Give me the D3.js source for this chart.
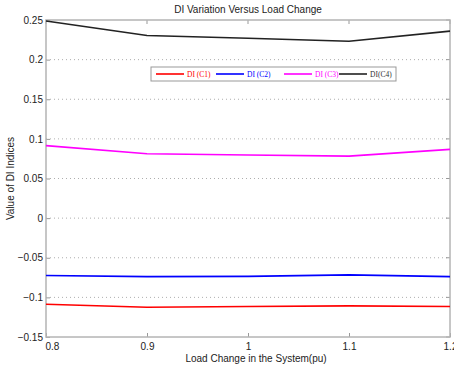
<!DOCTYPE html>
<html>
<head>
<meta charset="utf-8">
<script src="https://cdn.jsdelivr.net/npm/d3@7"></script>
<style>
  body { margin: 0; background: #fff; }
  text { font-family: Arial, "Liberation Sans", sans-serif; fill: #222; }
  .legend-text { font-family: "Liberation Serif", "Times New Roman", serif; font-size: 7.5px; }
</style>
</head>
<body>
<svg id="chart"></svg>
<script>
const loads = [0.8, 0.9, 1.0, 1.1, 1.2];
const c1 = [-0.1086, -0.1125, -0.1115, -0.1107, -0.1115];
const c2 = [-0.0724, -0.0738, -0.0735, -0.0716, -0.0738];
const c3 = [0.0915, 0.0812, 0.0797, 0.0782, 0.0868];
const c4 = [0.2488, 0.2305, 0.2270, 0.2232, 0.2360];
const seriesNames = ['DI (C1)', 'DI (C2)', 'DI (C3)', 'DI(C4)'];
const seriesColors = ['#ff0000', '#0000ff', '#ff00ff', '#222222'];
const xTicks = [0.8, 0.9, 1.0, 1.1, 1.2];
const yTicks = [-0.15, -0.1, -0.05, 0, 0.05, 0.1, 0.15, 0.2, 0.25];

const width = 454, height = 367;
const margin = {top: 20, right: 4, bottom: 30, left: 46};
const w = width - margin.left - margin.right;
const h = height - margin.top - margin.bottom;

const svg = d3.select('#chart').attr('width', width).attr('height', height);
const chart = svg.append('g').attr('transform', `translate(${margin.left},${margin.top})`);

const x = d3.scaleLinear().domain([0.8, 1.2]).range([0, w]);
const y = d3.scaleLinear().domain([-0.15, 0.25]).range([h, 0]);

// horizontal dotted grid
chart.append('g').selectAll('line')
    .data(yTicks.slice(1, -1))
  .join('line')
    .attr('x1', 0).attr('x2', w)
    .attr('y1', d => y(d)).attr('y2', d => y(d))
    .attr('stroke', '#999')
    .attr('stroke-width', 0.8)
    .attr('stroke-dasharray', '1,3');

// axes
const xAxis = d3.axisBottom(x).tickValues(xTicks).tickSizeInner(-4).tickSizeOuter(0).tickPadding(6)
    .tickFormat(d => d3.format('')(+d.toFixed(2)));
const yAxis = d3.axisLeft(y).tickValues(yTicks).tickSizeInner(-4).tickSizeOuter(0).tickPadding(3)
    .tickFormat(d => d3.format('')(+d.toFixed(2)));

const xg = chart.append('g').attr('transform', `translate(0,${h})`).call(xAxis);
const yg = chart.append('g').call(yAxis);
[xg, yg].forEach(g => {
  g.select('.domain').remove();
  g.selectAll('line').attr('stroke', '#999');
  g.selectAll('text').attr('font-size', 10).attr('fill', '#222');
});
xg.selectAll('text').filter((d, i) => i === 0).attr('text-anchor', 'start').attr('dx', -1);

// top & right ticks
chart.append('g').selectAll('line').data(xTicks).join('line')
    .attr('x1', d => x(d)).attr('x2', d => x(d)).attr('y1', 0).attr('y2', 4).attr('stroke', '#999');
chart.append('g').selectAll('line').data(yTicks).join('line')
    .attr('x1', w).attr('x2', w - 4).attr('y1', d => y(d)).attr('y2', d => y(d)).attr('stroke', '#999');

// frame
chart.append('rect')
    .attr('width', w).attr('height', h)
    .attr('fill', 'none').attr('stroke', '#b4b4b4').attr('stroke-width', 1.5);

// lines
const data = [c1, c2, c3, c4];
const line = d3.line().x((d, i) => x(loads[i])).y(d => y(d));
chart.selectAll('.chart-line')
    .data(data)
  .join('path')
    .attr('class', 'chart-line')
    .attr('fill', 'none')
    .attr('stroke', (d, i) => seriesColors[i])
    .attr('stroke-width', 1.6)
    .attr('d', line);

// legend
const legend = svg.append('g').attr('transform', 'translate(151,67)');
legend.append('rect')
    .attr('width', 245).attr('height', 14)
    .attr('fill', '#fff').attr('stroke', '#999').attr('stroke-width', 1);
const legendPos = [5, 65, 133, 188];
seriesNames.forEach((name, i) => {
  const g = legend.append('g').attr('transform', `translate(${legendPos[i]},7)`);
  g.append('line').attr('x1', 0).attr('x2', 28).attr('stroke', seriesColors[i]).attr('stroke-width', 1.6);
  g.append('text').attr('class', 'legend-text')
      .attr('x', 31).attr('y', 2.5)
      .style('fill', seriesColors[i] === '#222222' ? '#333' : seriesColors[i])
      .text(name);
});

// titles
svg.append('text')
    .attr('x', margin.left + w / 2).attr('y', 13)
    .attr('text-anchor', 'middle').attr('font-size', 10)
    .text('DI Variation Versus Load Change');
svg.append('text')
    .attr('x', margin.left + w / 2 + 8).attr('y', 362)
    .attr('text-anchor', 'middle').attr('font-size', 10)
    .text('Load Change in the System(pu)');
svg.append('text')
    .attr('transform', `translate(14,${margin.top + h / 2}) rotate(-90)`)
    .attr('text-anchor', 'middle').attr('font-size', 10)
    .text('Value of DI Indices');
</script>
</body>
</html>
